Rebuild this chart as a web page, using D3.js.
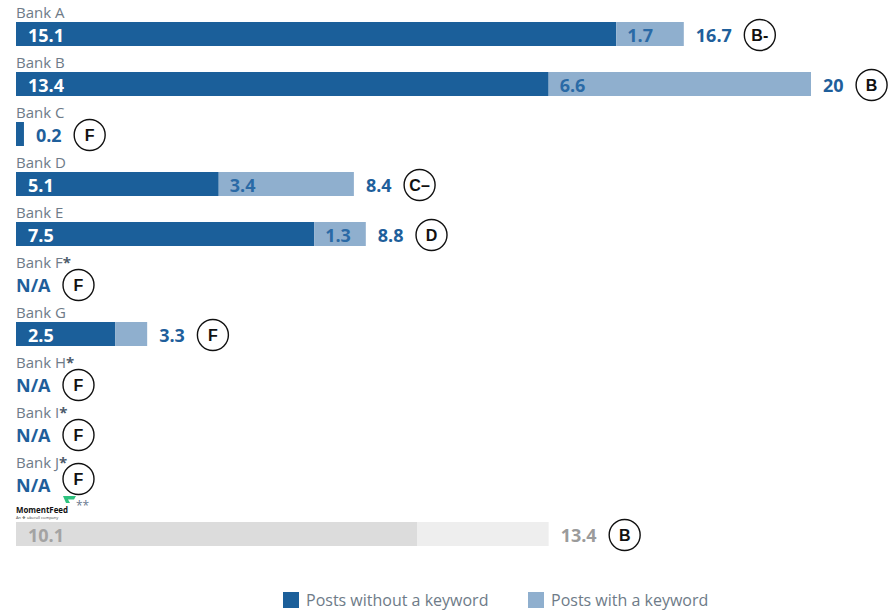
<!DOCTYPE html>
<html><head><meta charset="utf-8">
<script src="https://cdn.jsdelivr.net/npm/d3@7"></script>
<style>body{margin:0;background:#fff;} svg{display:block;font-family:"Open Sans",sans-serif;}</style>
</head><body>
<svg id="c" width="894" height="611"></svg>
<script>
const categories = ["Bank A","Bank B","Bank C","Bank D","Bank E","Bank F*","Bank G","Bank H*","Bank I*","Bank J*","MomentFeed"];
const withoutKeyword = [15.1,13.4,0.2,5.1,7.5,null,2.5,null,null,null,10.1];
const withKeyword    = [1.7,6.6,0,3.4,1.3,null,0.8,null,null,null,3.3];
const totals         = ["16.7","20","0.2","8.4","8.8","N/A","3.3","N/A","N/A","N/A","13.4"];
const grades         = ["B-","B","F","C\u2013","D","F","F","F","F","F","B"];
const legendLabels   = ["Posts without a keyword","Posts with a keyword"];

const svg = d3.select("#c");
const x = d3.scaleLinear().domain([0,20]).range([16,811]);
const y = d3.scaleBand().domain(categories).range([0,550]).paddingInner(0);
const barH = 24;
const dark="#1b5f9a", light="#8fafce", txtGray="#6e7b88";
const valFont = 18;

categories.forEach((c,i)=>{
  const y0 = y(c);
  const g = svg.append("g");
  const isMF = c==="MomentFeed";
  if(!isMF){
    const lt = g.append("text").attr("x",16).attr("y",y0+18).attr("font-size",15).attr("fill",txtGray).text(c.replace("*",""));
    if(c.includes("*")) lt.append("tspan").attr("font-weight","bold").attr("fill","#4d5b6a").text("*");
  } else {
    g.append("text").attr("x",16).attr("y",y0+12.5).attr("font-size",9).attr("font-weight","bold").attr("fill","#111")
      .attr("textLength",52).attr("lengthAdjust","spacingAndGlyphs").text("MomentFeed");
    g.append("text").attr("x",16).attr("y",y0+18.5).attr("font-size",4).attr("fill","#444").text("An \u2756 uberall company");
    g.append("path").attr("d",`M63,${y0-4} L76,${y0-4} L74,${y0-0.5} L68,${y0-0.5} L70,${y0+3} L66,${y0+3} Z`).attr("fill","#2ec27e");
    g.append("text").attr("x",76).attr("y",y0+10).attr("font-size",12).attr("fill","#6a7a90").text("**");
  }
  const by = y0+22;
  const a = withoutKeyword[i], b = withKeyword[i];
  const cDark = isMF?"#dcdcdc":dark, cLight = isMF?"#eeeeee":light;
  const inTxt = isMF?"#a3a3a3":"#ffffff", inTxt2 = isMF?"#a3a3a3":"#2a6aa6";
  const totCol = isMF?"#9b9b9b":"#1f5f9b";
  let labelX;
  if(a!==null){
    g.append("rect").attr("x",x(0)).attr("y",by).attr("width",x(a)-x(0)).attr("height",barH).attr("fill",cDark);
    g.append("rect").attr("x",x(a)).attr("y",by).attr("width",x(a+b)-x(a)).attr("height",barH).attr("fill",cLight);
    if(a>=1) g.append("text").attr("x",x(0)+12).attr("y",by+19.5).attr("font-size",valFont).attr("font-weight","bold").attr("fill",inTxt).text(a);
    if(b>=1 && !isMF) g.append("text").attr("x",x(a)+11).attr("y",by+19.5).attr("font-size",valFont).attr("font-weight","bold").attr("fill",inTxt2).text(b);
    labelX = x(a+b)+12;
  } else {
    labelX = 16;
  }
  const t = g.append("text").attr("x",labelX).attr("y",by+19.5).attr("font-size",valFont).attr("font-weight","bold").attr("fill",totCol).text(totals[i]);
  const w = t.node().getComputedTextLength();
  const cx = labelX + w + 28;
  const cy = by + 13 + (c==="Bank J*" ? -6 : 0);
  g.append("circle").attr("cx",cx).attr("cy",cy).attr("r",15.5).attr("fill","#fff").attr("stroke","#111").attr("stroke-width",1.4);
  g.append("text").attr("x",cx).attr("y",cy+5.6).attr("text-anchor","middle").attr("font-family","'Liberation Sans',Arial,sans-serif")
    .attr("font-size",16).attr("font-weight","bold").attr("fill","#111").text(grades[i]);
});

const leg = [{l:legendLabels[0],c:dark,x:283},{l:legendLabels[1],c:light,x:528}];
leg.forEach(d=>{
  svg.append("rect").attr("x",d.x).attr("y",592).attr("width",16).attr("height",16).attr("fill",d.c);
  svg.append("text").attr("x",d.x+23).attr("y",606).attr("font-size",16).attr("fill",txtGray).text(d.l);
});
</script>
</body></html>
